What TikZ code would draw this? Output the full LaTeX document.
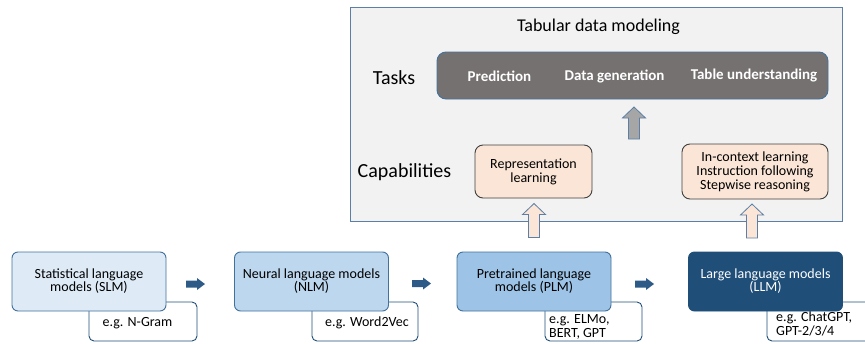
\documentclass[tikz,border=0pt]{standalone}
\usepackage{fontspec}
\setmainfont{Carlito}
\usetikzlibrary{calc,positioning}

\definecolor{panelgray}{HTML}{F2F2F2}
\definecolor{panelline}{HTML}{5B7FA6}
\definecolor{taskgray}{HTML}{767171}
\definecolor{peach}{HTML}{FBE5D6}
\definecolor{slmblue}{HTML}{DEEBF7}
\definecolor{nlmblue}{HTML}{BDD7EE}
\definecolor{plmblue}{HTML}{9DC3E6}
\definecolor{llmblue}{HTML}{1F4E79}
\definecolor{boxline}{HTML}{41719C}
\definecolor{navy}{HTML}{2E5A87}

% hollow block arrow pointing up, #1 fill, #2 base, #3 tip
\newcommand{\blockup}[3]{%
\draw[draw=panelline,line width=.8pt,fill=#1] let \p1=(#2), \p2=(#3) in
  (\x1-5.5pt,\y1) -- (\x1+5.5pt,\y1) -- (\x1+5.5pt,\y2-11pt) -- (\x1+11.5pt,\y2-11pt)
  -- (\x1,\y2) -- (\x1-11.5pt,\y2-11pt) -- (\x1-5.5pt,\y2-11pt) -- cycle;}
% small filled block arrow pointing right, #1 tail, #2 tip
\newcommand{\blockright}[2]{%
\fill[navy] let \p1=(#1), \p2=(#2) in
  (\x1,\y1-3.5pt) -- (\x2-8pt,\y1-3.5pt) -- (\x2-8pt,\y1-6pt) -- (\x2,\y1)
  -- (\x2-8pt,\y1+6pt) -- (\x2-8pt,\y1+3.5pt) -- (\x1,\y1+3.5pt) -- cycle;}

\begin{document}
\begin{tikzpicture}[x=1pt,y=-1pt,font=\fontsize{14}{13}\selectfont,
  model/.style={draw=boxline,line width=.9pt,rounded corners=6pt,minimum width=154pt,minimum height=59pt,align=center},
  example/.style={draw=llmblue,line width=.9pt,fill=white,rounded corners=5pt,minimum height=39pt},
  capab/.style={draw=black!75,line width=.9pt,fill=peach,rounded corners=8pt,align=center,font=\fontsize{14}{14}\selectfont},
  task/.style={text=white,font=\fontsize{15}{15}\selectfont\bfseries}]
\useasboundingbox (0,0) rectangle (865,343);

% tabular data modeling panel
\draw[draw=panelline,fill=panelgray,line width=.9pt] (350,7) rectangle (842,221);
\node (title) at (598.5,27) {\fontsize{18}{18}\selectfont Tabular data modeling};

\node (tasklbl) at (394,78) {\fontsize{20}{20}\selectfont Tasks};
\node[draw=boxline,line width=.9pt,fill=taskgray,rounded corners=9pt,minimum width=391pt,minimum height=47pt] (tasks) at (632.5,75.5) {};
\node[task] (pred) at (499.5,76) {Prediction};
\node[task] (gen) at (614.5,76) {Data generation};
\node[task] (under) at (754,76) {Table understanding};

\node (caplbl) at (404.5,172) {\fontsize{20}{20}\selectfont Capabilities};
\node[capab,minimum width=117pt,minimum height=53pt] (rep) at (533.5,171.5) {Representation\\learning};
\node[capab,minimum width=146pt,minimum height=55pt] (icl) at (755,171.5) {In-context learning\\Instruction following\\Stepwise reasoning};

\coordinate (gbase) at (634,139);
\coordinate (gtip) at (634,107);
\blockup{black!35}{gbase}{gtip}

% language model stages
\node[example,minimum width=108pt] (slmex) at (143,321.5) {};
\node[example,minimum width=106pt] (nlmex) at (365,321.5) {};
\node[example,minimum width=97pt] (plmex) at (593.5,321.5) {};
\node[example,minimum width=108pt] (llmex) at (821,321.5) {};

\node[model,fill=slmblue] (slm) at (89,281.5) {Statistical language\\models (SLM)};
\node[model,fill=nlmblue] (nlm) at (311.5,281.5) {Neural language models\\(NLM)};
\node[model,fill=plmblue] (plm) at (534,281.5) {Pretrained language\\models (PLM)};
\node[model,fill=llmblue,draw=llmblue,text=white] (llm) at (765.5,281.5) {Large language models\\(LLM)};

\node (slmeg) at (137.5,323) {e.g. N-Gram};
\node (nlmeg) at (367,323) {e.g. Word2Vec};
\node[anchor=west,align=left,inner sep=0pt,font=\fontsize{14}{14}\selectfont] (plmeg) at (549,327) {e.g. ELMo,\\BERT, GPT};
\node[anchor=west,align=left,inner sep=0pt,font=\fontsize{14}{14}\selectfont] (llmeg) at (776,323.5) {e.g. ChatGPT,\\GPT-2/3/4};

\coordinate (a1s) at (186,284);
\coordinate (a1e) at (205,284);
\coordinate (a2s) at (412,283.5);
\coordinate (a2e) at (431,283.5);
\coordinate (a3s) at (635,284);
\coordinate (a3e) at (654,284);
\blockright{a1s}{a1e}
\blockright{a2s}{a2e}
\blockright{a3s}{a3e}

\coordinate (rbase) at ($(plm.north)+(0,-14)$);
\coordinate (rtip) at ($(plm.north)+(0,-48)$);
\blockup{peach}{rbase}{rtip}
\coordinate (ibase) at (752,238);
\coordinate (itip) at (752,204);
\blockup{peach}{ibase}{itip}

\end{tikzpicture}
\end{document}
